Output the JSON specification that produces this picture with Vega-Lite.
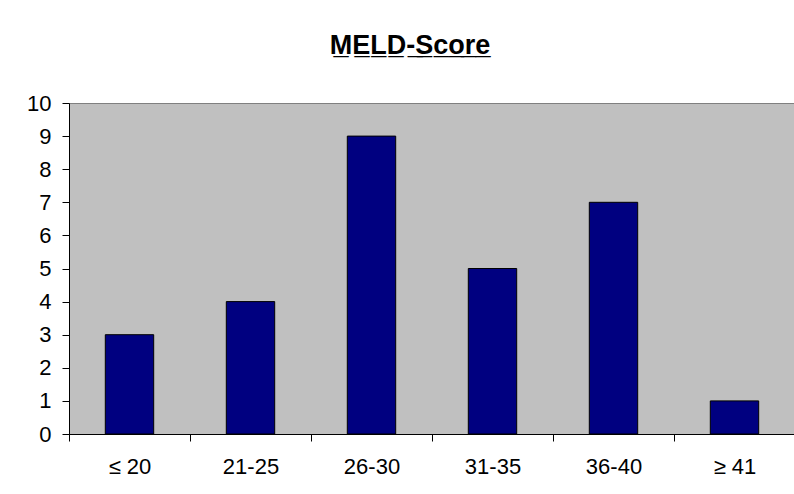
{
  "$schema": "https://vega.github.io/schema/vega-lite/v6.json",
  "autosize": {"type": "none"},
  "width": 726,
  "height": 331,
  "padding": {"left": 69, "top": 103, "right": 0, "bottom": 60},
  "background": "white",
  "title": {
    "text": "M̲E̲L̲D̲-̲S̲c̲o̲r̲e̲",
    "font": "Liberation Sans",
    "fontSize": 27,
    "fontWeight": "bold",
    "color": "black",
    "anchor": "middle",
    "dx": -22,
    "offset": 32
  },
  "data": {
    "values": [
      {"score": "≤ 20", "count": 3},
      {"score": "21-25", "count": 4},
      {"score": "26-30", "count": 9},
      {"score": "31-35", "count": 5},
      {"score": "36-40", "count": 7},
      {"score": "≥ 41", "count": 1}
    ]
  },
  "mark": {"type": "bar", "fill": "#000080", "stroke": "black", "strokeWidth": 1, "width": {"band": 0.4}},
  "encoding": {
    "x": {
      "field": "score",
      "type": "nominal",
      "sort": null,
      "scale": {"paddingInner": 0, "paddingOuter": 0},
      "axis": {
        "title": null,
        "labelAngle": 0,
        "tickBand": "extent",
        "tickSize": 7,
        "tickColor": "black",
        "domainColor": "black",
        "labelFont": "Liberation Sans",
        "labelFontSize": 22,
        "labelColor": "black",
        "labelPadding": 15,
        "grid": false
      }
    },
    "y": {
      "field": "count",
      "type": "quantitative",
      "scale": {"domain": [0, 10], "nice": false},
      "axis": {
        "title": null,
        "values": [0, 1, 2, 3, 4, 5, 6, 7, 8, 9, 10],
        "tickSize": 7,
        "tickColor": "black",
        "domainColor": "black",
        "labelFont": "Liberation Sans",
        "labelFontSize": 22,
        "labelColor": "black",
        "labelPadding": 11,
        "grid": false
      }
    }
  },
  "config": {
    "view": {"fill": "#C0C0C0", "stroke": "#808080", "strokeWidth": 1}
  }
}
